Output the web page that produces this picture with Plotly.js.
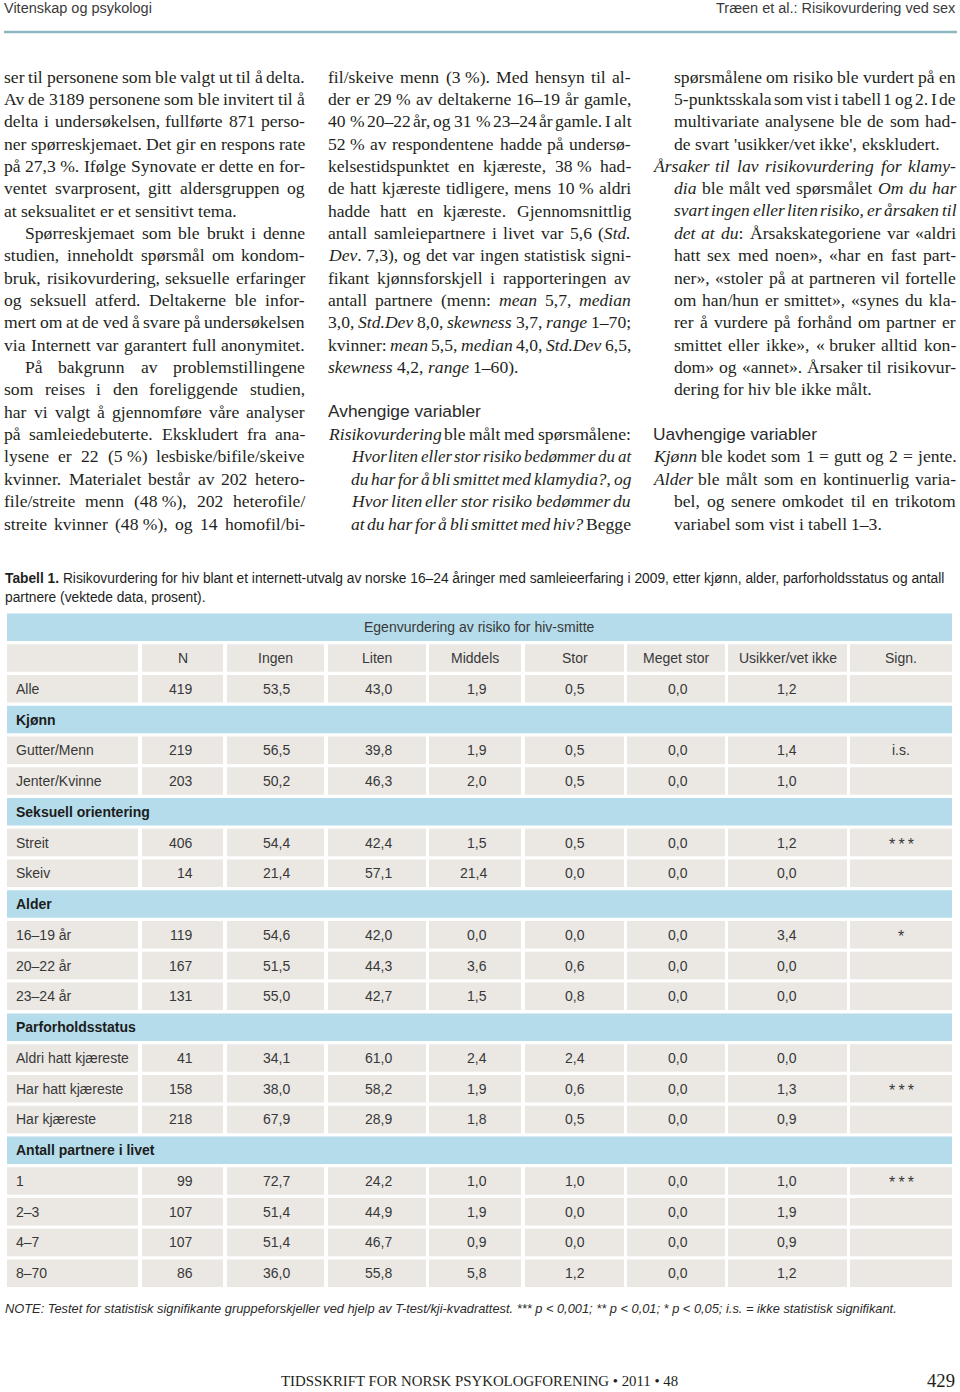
<!DOCTYPE html>
<html><head><meta charset="utf-8">
<script src="https://cdn.plot.ly/plotly-3.0.1.min.js"></script>
<style>html,body{margin:0;padding:0;background:#fff}</style>
</head><body><div id="chart" style="width:960px;height:1392px"></div>
<script>
// ---------------- DATA ----------------
const tableTitle = "Egenvurdering av risiko for hiv-smitte";
const columnHeaders = ["N","Ingen","Liten","Middels","Stor","Meget stor","Usikker/vet ikke","Sign."];
const rowLabels = ["Alle","Kjønn","Gutter/Menn","Jenter/Kvinne","Seksuell orientering","Streit","Skeiv","Alder","16–19 år","20–22 år","23–24 år","Parforholdsstatus","Aldri hatt kjæreste","Har hatt kjæreste","Har kjæreste","Antall partnere i livet","1","2–3","4–7","8–70"];
const sectionRow = [false,true,false,false,true,false,false,true,false,false,false,true,false,false,false,true,false,false,false,false];
const nValues  = [419,null,219,203,null,406,14,null,119,167,131,null,41,158,218,null,99,107,107,86];
const ingen    = [53.5,null,56.5,50.2,null,54.4,21.4,null,54.6,51.5,55.0,null,34.1,38.0,67.9,null,72.7,51.4,51.4,36.0];
const liten    = [43.0,null,39.8,46.3,null,42.4,57.1,null,42.0,44.3,42.7,null,61.0,58.2,28.9,null,24.2,44.9,46.7,55.8];
const middels  = [1.9,null,1.9,2.0,null,1.5,21.4,null,0.0,3.6,1.5,null,2.4,1.9,1.8,null,1.0,1.9,0.9,5.8];
const stor     = [0.5,null,0.5,0.5,null,0.5,0.0,null,0.0,0.6,0.8,null,2.4,0.6,0.5,null,1.0,0.0,0.0,1.2];
const megetStor= [0.0,null,0.0,0.0,null,0.0,0.0,null,0.0,0.0,0.0,null,0.0,0.0,0.0,null,0.0,0.0,0.0,0.0];
const usikker  = [1.2,null,1.4,1.0,null,1.2,0.0,null,3.4,0.0,0.0,null,0.0,1.3,0.9,null,1.0,1.9,0.9,1.2];
const signif   = ["",null,"i.s.","",null,"***","",null,"*","","",null,"","***","",null,"***","","",""];

const captionLine1 = "Risikovurdering for hiv blant et internett-utvalg av norske 16–24 åringer med samleieerfaring i 2009, etter kjønn, alder, parforholdsstatus og antall";
const captionLine2 = "partnere (vektede data, prosent).";
const noteText = "NOTE: Testet for statistisk signifikante gruppeforskjeller ved hjelp av T-test/kji-kvadrattest. *** p &lt; 0,001; ** p &lt; 0,01; * p &lt; 0,05; i.s. = ikke statistisk signifikant.";

// ---------------- PAGE TEXT ----------------
const col1 = [
 [4,"ser til personene som ble valgt ut til å delta.",true],
 [4,"Av de 3189 personene som ble invitert til å",true],
 [4,"delta i undersøkelsen, fullførte 871 perso-",true],
 [4,"ner spørreskjemaet. Det gir en respons rate",true],
 [4,"på 27,3\u00a0%. Ifølge Synovate er dette en for-",true],
 [4,"ventet svarprosent, gitt aldersgruppen og",true],
 [4,"at seksualitet er et sensitivt tema.",false],
 [25,"Spørreskjemaet som ble brukt i denne",true],
 [4,"studien, inneholdt spørsmål om kondom-",true],
 [4,"bruk, risikovurdering, seksuelle erfaringer",true],
 [4,"og seksuell atferd. Deltakerne ble infor-",true],
 [4,"mert om at de ved å svare på undersøkelsen",true],
 [4,"via Internett var garantert full anonymitet.",true],
 [25,"På bakgrunn av problemstillingene",true],
 [4,"som reises i den foreliggende studien,",true],
 [4,"har vi valgt å gjennomføre våre analyser",true],
 [4,"på samleiedebuterte. Ekskludert fra ana-",true],
 [4,"lysene er 22 (5\u00a0%) lesbiske/bifile/skeive",true],
 [4,"kvinner. Materialet består av 202 hetero-",true],
 [4,"file/streite menn (48\u00a0%), 202 heterofile/",true],
 [4,"streite kvinner (48\u00a0%), og 14 homofil/bi-",true]
];
const col2 = [
 [328,"fil/skeive menn (3\u00a0%). Med hensyn til al-",true],
 [328,"der er 29\u00a0% av deltakerne 16–19 år gamle,",true],
 [328,"40\u00a0% 20–22 år, og 31\u00a0% 23–24 år gamle. I alt",true],
 [328,"52\u00a0% av respondentene hadde på undersø-",true],
 [328,"kelsestidspunktet en kjæreste, 38\u00a0% had-",true],
 [328,"de hatt kjæreste tidligere, mens 10\u00a0% aldri",true],
 [328,"hadde hatt en kjæreste. Gjennomsnittlig",true],
 [328,"antall samleiepartnere i livet var 5,6 (<i>Std.</i>",true],
 [328,"<i>Dev</i>. 7,3), og det var ingen statistisk signi-",true],
 [328,"fikant kjønnsforskjell i rapporteringen av",true],
 [328,"antall partnere (menn: <i>mean</i> 5,7, <i>median</i>",true],
 [328,"3,0, <i>Std.Dev</i> 8,0, <i>skewness</i> 3,7, <i>range</i> 1–70;",true],
 [328,"kvinner: <i>mean</i> 5,5, <i>median</i> 4,0, <i>Std.Dev</i> 6,5,",true],
 [328,"<i>skewness</i> 4,2, <i>range</i> 1–60).",false],
 null,
 null,
 [328,"<i>Risikovurdering</i> ble målt med spørsmålene:",true],
 [351,"<i>Hvor liten eller stor risiko bedømmer du at</i>",true],
 [351,"<i>du har for å bli smittet med klamydia?, og</i>",true],
 [351,"<i>Hvor liten eller stor risiko bedømmer du</i>",true],
 [351,"<i>at du har for å bli smittet med hiv?</i> Begge",true]
];
const col3 = [
 [674,"spørsmålene om risiko ble vurdert på en",true],
 [674,"5-punktsskala som vist i tabell 1 og 2. I de",true],
 [674,"multivariate analysene ble de som had-",true],
 [674,"de svart 'usikker/vet ikke', ekskludert.",false],
 [653,"<i>Årsaker til lav risikovurdering for klamy-</i>",true],
 [674,"<i>dia</i> ble målt ved spørsmålet <i>Om du har</i>",true],
 [674,"<i>svart ingen eller liten risiko, er årsaken til</i>",true],
 [674,"<i>det at du</i>: Årsakskategoriene var «aldri",true],
 [674,"hatt sex med noen», «har en fast part-",true],
 [674,"ner», «stoler på at partneren vil fortelle",true],
 [674,"om han/hun er smittet», «synes du kla-",true],
 [674,"rer å vurdere på forhånd om partner er",true],
 [674,"smittet eller ikke», «\u00a0bruker alltid kon-",true],
 [674,"dom» og «annet». Årsaker til risikovur-",true],
 [674,"dering for hiv ble ikke målt.",false],
 null,
 null,
 [653,"<i>Kjønn</i> ble kodet som 1 = gutt og 2 = jente.",true],
 [653,"<i>Alder</i> ble målt som en kontinuerlig varia-",true],
 [674,"bel, og senere omkodet til en trikotom",true],
 [674,"variabel som vist i tabell 1–3.",false]
];

// ---------------- HELPERS ----------------
const SERIF_C = '"Liberation Serif"';
const SANS_C = '"Liberation Sans"';
const SERIF = '"Liberation Serif", "Times New Roman", serif';
const SANS = '"Liberation Sans", Arial, sans-serif';
const ctx = document.createElement('canvas').getContext('2d');
function cssFont(size, fam, o){ o=o||{}; return (o.italic?'italic ':'')+(o.bold?'bold ':'')+size+'px '+fam; }
function tw(s, font){ ctx.font = font; return ctx.measureText(s).width; }
function fit(parts, fam, target){
  const w = parts.reduce((a,p)=>a+tw(p.t, cssFont(100, fam, p)),0);
  return 100*target/w;
}
function parseWords(line){
  let ital=false; const out=[];
  for (const w of line.split(' ')){
    if (!w) continue;
    const segs=[]; let cur='';
    for (const p of w.split(/(<\/?i>)/)){
      if (p==='<i>'){ if(cur) segs.push({t:cur,ital}); cur=''; ital=true; }
      else if (p==='</i>'){ if(cur) segs.push({t:cur,ital}); cur=''; ital=false; }
      else cur+=p;
    }
    if (cur) segs.push({t:cur,ital});
    out.push({segs, html: segs.map(s=>s.ital?'<i>'+s.t+'</i>':s.t).join('')});
  }
  return out;
}

const BODY_COLOR = '#231f20';
const LINE0 = 77, LINE = 22.35;
const annotations = [];
const shapes = [];
function ann(o){ annotations.push(Object.assign({xref:'x',yref:'y',showarrow:false,borderpad:0,borderwidth:0},o)); }

const BASE = 17.6;
const cols = [[col1,305],[col2,631],[col3,956]];
cols.forEach(([lines,x1])=>{
  lines.forEach((ln,i)=>{
    if(!ln) return;
    const [x0,txt,just]=ln;
    const y = LINE0 + i*LINE - 0.5;
    const words = parseWords(txt);
    const w1 = words.reduce((a,w)=>a+w.segs.reduce((b,s)=>b+tw(s.t,cssFont(100,SERIF_C,{italic:s.ital}))/100,0),0);
    let size = BASE;
    const maxS = (x1-x0)/(w1+(words.length-1)*0.15);
    if (maxS<size) size=maxS;
    const widths = words.map(w=>w.segs.reduce((b,s)=>b+tw(s.t,cssFont(size,SERIF_C,{italic:s.ital})),0));
    const total = widths.reduce((a,b)=>a+b,0);
    let gap = tw(' ',cssFont(size,SERIF_C));
    if (just && words.length>1) gap = (x1-x0-total)/(words.length-1);
    let x=x0;
    words.forEach((w,k)=>{
      ann({x, y, text:w.html, xanchor:'left', yanchor:'middle', font:{family:SERIF,size,color:BODY_COLOR}});
      x += widths[k]+gap;
    });
  });
});
// sub headings
const h1 = "Avhengige variabler", h2 = "Uavhengige variabler";
ann({x:328,y:LINE0+15*LINE-1,text:h1,xanchor:'left',yanchor:'middle',font:{family:SANS,size:fit([{t:h1}],SANS_C,153),color:'#2a2a2a'}});
ann({x:653,y:LINE0+16*LINE-1,text:h2,xanchor:'left',yanchor:'middle',font:{family:SANS,size:fit([{t:h2}],SANS_C,164),color:'#2a2a2a'}});

// running header
const hl = "Vitenskap og psykologi", hr = "Træen et al.: Risikovurdering ved sex";
const hs = fit([{t:hl}],SANS_C,148);
ann({x:4,y:8,text:hl,xanchor:'left',yanchor:'middle',font:{family:SANS,size:hs,color:'#3a3a3a'}});
ann({x:956,y:8,text:hr,xanchor:'right',yanchor:'middle',font:{family:SANS,size:hs,color:'#3a3a3a'}});
shapes.push({type:'line',xref:'x',yref:'y',x0:4,x1:957,y0:32,y1:32,line:{color:'#8db7c3',width:2.5}});

// caption
const capSize = fit([{t:'Tabell 1. ',bold:true},{t:captionLine1}],SANS_C,941);
ann({x:5,y:578,text:'<b>Tabell 1.</b> '+captionLine1,xanchor:'left',yanchor:'middle',font:{family:SANS,size:capSize,color:'#1e1e1e'}});
ann({x:5,y:597,text:captionLine2,xanchor:'left',yanchor:'middle',font:{family:SANS,size:capSize,color:'#1e1e1e'}});

// ---------------- TABLE ----------------
const BLUE='#b5dcea', GRAY='#ebe8e4', TXT='#383838';
const ROW0=613.5, PITCH=30.76, CELLH=27.5;
const colLeft =[7,142,227,328,429,525,627,728,850];
const colRight=[138,223,324,426,521,624,725,847,952];
const valueRight=[193,290,392,487,585,688,797];
const TS=14;
function rect(x0,x1,y0,y1,c){ shapes.push({type:'rect',xref:'x',yref:'y',x0,x1,y0,y1,fillcolor:c,line:{width:0},layer:'below'}); }
function rowTop(i){ return ROW0+i*PITCH; }
rect(colLeft[0],colRight[8],rowTop(0),rowTop(0)+CELLH,BLUE);
ann({x:(colLeft[0]+colRight[8])/2,y:rowTop(0)+CELLH/2,text:tableTitle,xanchor:'center',yanchor:'middle',font:{family:SANS,size:TS,color:TXT}});
for(let c=0;c<9;c++) rect(colLeft[c],colRight[c],rowTop(1),rowTop(1)+CELLH,GRAY);
columnHeaders.forEach((h,k)=>ann({x:(colLeft[k+1]+colRight[k+1])/2,y:rowTop(1)+CELLH/2,text:h,xanchor:'center',yanchor:'middle',font:{family:SANS,size:TS,color:TXT}}));
const fmt = v => v.toFixed(1).replace('.',',');
const series=[nValues,ingen,liten,middels,stor,megetStor,usikker];
rowLabels.forEach((lab,r)=>{
  const i=r+2, t=rowTop(i), yc=t+CELLH/2;
  if(sectionRow[r]){
    rect(colLeft[0],colRight[8],t,t+CELLH,BLUE);
    ann({x:16,y:yc,text:'<b>'+lab+'</b>',xanchor:'left',yanchor:'middle',font:{family:SANS,size:TS,color:'#1c1c1c'}});
    return;
  }
  for(let c=0;c<9;c++) rect(colLeft[c],colRight[c],t,t+CELLH,GRAY);
  ann({x:16,y:yc,text:lab,xanchor:'left',yanchor:'middle',font:{family:SANS,size:TS,color:TXT}});
  series.forEach((s,k)=>{
    const txt = k===0 ? String(s[r]) : fmt(s[r]);
    ann({x:valueRight[k],y:yc,text:txt,xanchor:'right',yanchor:'middle',font:{family:SANS,size:TS,color:TXT}});
  });
  if(signif[r]){
    const star = signif[r].indexOf('*')>=0;
    ann({x:901,y:yc+(star?2:0),text:star?signif[r].split('').join('\u2009'):signif[r],xanchor:'center',yanchor:'middle',font:{family:SANS,size:star?16:TS,color:TXT}});
  }
});

// note & footer
ann({x:5,y:1308,text:'<i>'+noteText+'</i>',xanchor:'left',yanchor:'middle',font:{family:SANS,size:fit([{t:noteText.replace(/&lt;/g,'<'),italic:true}],SANS_C,893),color:'#2a2a2a'}});
const foot = "TIDSSKRIFT FOR NORSK PSYKOLOGFORENING • 2011 • 48";
ann({x:479,y:1381,text:foot,xanchor:'center',yanchor:'middle',font:{family:SERIF,size:fit([{t:foot}],SERIF_C,398),color:BODY_COLOR}});
ann({x:955,y:1380,text:'429',xanchor:'right',yanchor:'middle',font:{family:SERIF,size:fit([{t:'429'}],SERIF_C,28),color:BODY_COLOR}});

const layout = {
  width:960, height:1392, margin:{l:0,r:0,t:0,b:0}, paper_bgcolor:'#fff', plot_bgcolor:'#fff',
  showlegend:false,
  xaxis:{range:[0,960],visible:false,fixedrange:true},
  yaxis:{range:[1392,0],visible:false,fixedrange:true},
  shapes, annotations
};
Plotly.newPlot('chart',[{type:'scatter',x:[],y:[],hoverinfo:'skip'}],layout,{displayModeBar:false,staticPlot:true});
</script>
</body></html>
